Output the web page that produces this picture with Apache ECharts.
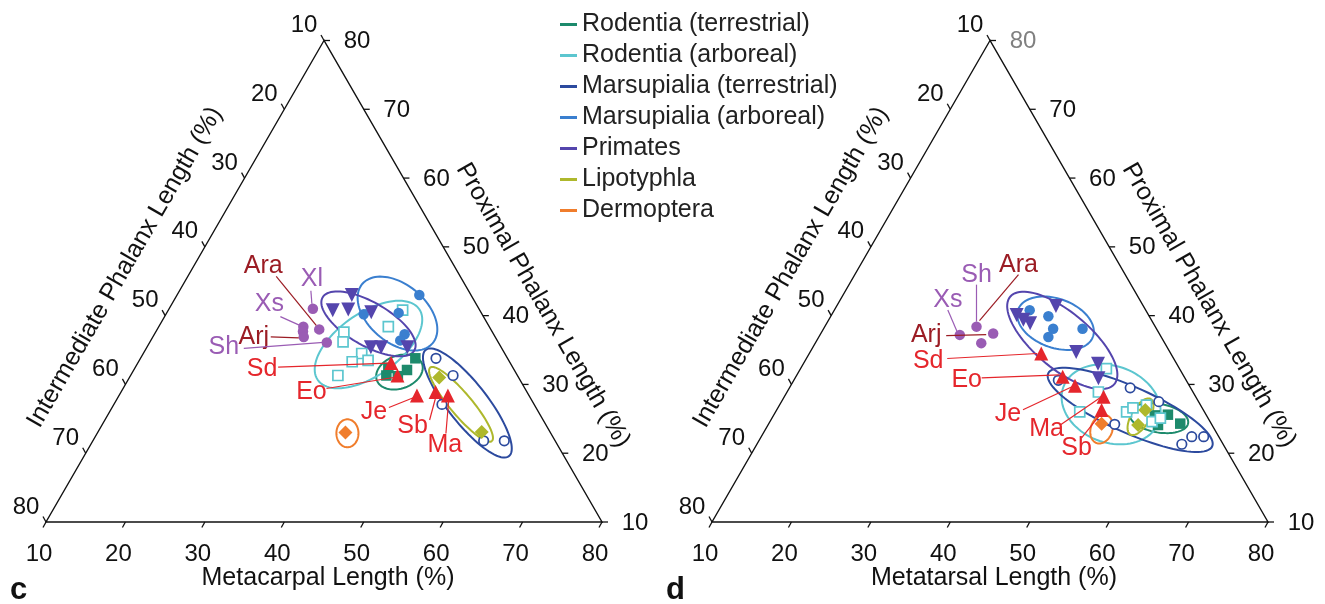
<!DOCTYPE html>
<html><head><meta charset="utf-8">
<script src="https://cdn.jsdelivr.net/npm/echarts@6/dist/echarts.min.js"></script>
<style>html,body{margin:0;padding:0;background:#fff}#chart{width:1325px;height:604px}</style>
</head><body><div id="chart"></div>
<script>
// ---------------- DATA ----------------
// Each point: [metacarpal (c) / metatarsal (d) length %, proximal phalanx length %]
// intermediate phalanx length % = 100 - both
const tickValues = [10, 20, 30, 40, 50, 60, 70, 80];
const legendNames = ['Rodentia (terrestrial)', 'Rodentia (arboreal)', 'Marsupialia (terrestrial)',
  'Marsupialia (arboreal)', 'Primates', 'Lipotyphla', 'Dermoptera'];

// panel c (manus)
const cRodentiaTer = [[44.6,33.8],[44.4,32.1],[43.7,31.2],[42.2,31.3],[41.9,32.4]];
const cRodentiaArb = [[39.5,40.8],[38.9,38.4],[33.7,37.6],[34.3,36.2],[37.5,34.5],[38.8,33.5],[36.9,33.3],[36.1,31.3]];
const cMarsupTer = [[47.2,33.8],[50.6,31.3],[51.3,27.1],[59.2,21.8],[61.8,21.8]];
const cMarsupArb = [[40.5,43.0],[39.2,40.4],[34.9,40.2],[41.5,37.3],[41.4,36.4]];
const cPrimates = [[32.0,43.0],[30.7,40.8],[32.6,40.9],[35.7,40.5],[38.2,35.4],[39.5,35.4],[42.8,35.4]];
const cLipotyphla = [[49.0,31.0],[58.3,23.1]];
const cDermoptera = [[41.2,23.0]];
const cFossilRed = [[41.9,33.1],[43.6,31.3],[47.5,28.4],[49.6,28.9],[51.4,28.4]];      // Sd Eo Je Sb Ma
const cFossilPurple = [[28.1,41.0],[28.2,38.4],[28.5,37.7],[30.4,38.0],[29.0,36.9],[32.3,36.1]]; // Xl Xs - Ara Arj Sh
// confidence ellipses: [centre metacarpal, centre proximal, semi-major, semi-minor, tilt deg], legend order
const cEllipses = [[43.6,31.8,3.03,2.07,-20],[37.7,35.8,7.79,3.94,-35],[54.4,27.3,8.5,2.5,52],
  [39.1,40.3,5.79,3.65,40],[36.2,38.8,6.67,2.73,30],[53.7,27.1,6.04,1.38,50],[41.5,22.9,1.76,1.39,90]];
const cAnnoNames = ['Ara','Xl','Xs','Arj','Sh','Sd','Eo','Je','Sb','Ma'];
const cAnnoTargets = [cFossilPurple[3],cFossilPurple[0],cFossilPurple[1],cFossilPurple[4],cFossilPurple[5],
  cFossilRed[0],cFossilRed[1],cFossilRed[2],cFossilRed[3],cFossilRed[4]];

// panel d (pes)
const dRodentiaTer = [[58.0,25.5],[59.6,25.6],[61.8,24.3],[59.1,24.1]];
const dRodentiaArb = [[48.5,32.3],[49.2,28.9],[48.3,26.0],[54.2,26.0],[54.7,26.6],[56.2,27.0],[58.1,24.6],[58.9,25.1]];
const dMarsupTer = [[43.3,30.6],[52.9,29.5],[53.6,24.2],[57.5,27.5],[63.5,21.3],[64.2,22.4],[65.7,22.4]];
const dMarsupArb = [[34.6,40.8],[37.4,39.9],[38.9,38.1],[38.9,36.9],[42.6,38.1]];
const dPrimates = [[33.3,40.1],[34.5,39.4],[35.6,38.9],[37.6,41.4],[43.5,34.7],[47.1,33.0],[48.2,30.9]];
const dLipotyphla = [[56.4,26.3],[56.6,24.1]];
const dDermoptera = [[51.9,24.3]];
const dFossilRed = [[39.2,34.5],[43.6,31.1],[45.8,29.8],[50.2,28.2],[50.9,26.3]];   // Sd Eo Je Ma Sb
const dFossilPurple = [[27.6,37.2],[29.1,38.4],[31.7,37.4],[30.9,36.0]];
const dEllipses = [[58.7,25.1,3.75,1.80,10],[51.7,27.1,6.4,4.82,20],[54.5,26.3,11.3,2.9,24],
  [38.8,38.9,5.01,3.08,20],[40.9,36.4,8.56,3.53,40],[56.3,25.3,2.58,1.16,-60],[52.3,23.5,1.86,1.36,-70]];
const dAnnoNames = ['Xs','Sh','Ara','Arj','Sd','Eo','Je','Ma','Sb'];
const dAnnoTargets = [dFossilPurple[0],dFossilPurple[1],dFossilPurple[1],dFossilPurple[2],
  dFossilRed[0],dFossilRed[1],dFossilRed[2],dFossilRed[3],dFossilRed[4]];

// ---------------- STYLE / LAYOUT ----------------
const groupColors = ['#1d8a6c','#5cc6cf','#2c4a9e','#3a7fcf','#5445ad','#aeb82c','#f07d2c'];
const RED = '#e5262c', DARKRED = '#9b1c24', PURPLE = '#9a5cb4';
const FONT = '"Liberation Sans", Arial, Helvetica, sans-serif';
// annotation layout: [colour, text dx,dy, line start dx,dy, line end dx,dy] (pixels from target)
const cAnnoLayout = [
  [DARKRED,-56,-63,-43,-53,-3,-4],[PURPLE,-1,-30,-2,-18,-1,-5],[PURPLE,-34,-23,-23,-10,-3,-1],
  [DARKRED,-50,0,-33,0,-5,1],[PURPLE,-103,5,-83,6,-3,0],[RED,-129,6,-113,4,-3,0],
  [RED,-86,17,-71,13,-4,2],[RED,-43,17,-28,12,-3,2],[RED,-23,34,-6,28,1,2],[RED,-3,50,-2,38,1,2]];
const dAnnoLayout = [
  [PURPLE,-12,-35,-12,-25,-3,-4],[PURPLE,0,-52,0,-42,0,-5],[DARKRED,42,-62,42,-52,3,-6],
  [DARKRED,-67,2,-47,2,-7,1],[RED,-113,8,-94,5,-4,0],[RED,-96,3,-81,1,-3,-2],
  [RED,-67,28,-52,24,-3,1],[RED,-57,32,-43,28,-2,0],[RED,-25,38,-20,28,0,3]];

const SQ = Math.sqrt(3) / 2;
function tern(m, p) { return [(m - 10) + (p - 10) / 2, (p - 10) * SQ]; }

function txt(s, x, y, size, color, rot, weight, align) {
  return { type: 'text', x: x, y: y, rotation: rot || 0,
    style: { text: s, fill: color, font: (weight || 'normal') + ' ' + size + 'px ' + FONT,
      align: align || 'center', textAlign: align || 'center', verticalAlign: 'middle', textVerticalAlign: 'middle' } };
}
function seg(p, q, color, w) {
  return { type: 'line', shape: { x1: p[0], y1: p[1], x2: q[0], y2: q[1] }, style: { stroke: color, lineWidth: w } };
}

function frameSeries(gi, bottomTitle, letter, letterDx, topRightColor) {
  return { type: 'custom', xAxisIndex: gi, yAxisIndex: gi, silent: true, clip: false, z: 1,
    data: [[0, 0]],
    renderItem: function (params, api) {
      const c = (m, p) => api.coord(tern(m, p));
      const A = c(10, 80), B = c(10, 10), C = c(80, 10);
      const ch = [{ type: 'polygon', shape: { points: [A, B, C] }, style: { fill: 'none', stroke: '#111', lineWidth: 1.4 } }];
      tickValues.forEach(v => {
        let p = c(v, 10);
        ch.push(seg(p, [p[0] - 3, p[1] + 5.5], '#111', 1.3));
        ch.push(txt(String(v), p[0] - 7, p[1] + 32, 24, '#111'));
        p = c(10, 90 - v);
        ch.push(seg(p, [p[0] - 3, p[1] - 5.5], '#111', 1.3));
        ch.push(txt(String(v), p[0] - 20, p[1] - 15, 24, '#111'));
        p = c(90 - v, v);
        ch.push(seg(p, [p[0] + 6, p[1]], '#111', 1.3));
        ch.push(txt(String(v), p[0] + 33, p[1] + 1, 24, v === 80 ? topRightColor : '#111'));
      });
      const midL = [(A[0] + B[0]) / 2, (A[1] + B[1]) / 2], midR = [(A[0] + C[0]) / 2, (A[1] + C[1]) / 2];
      ch.push(txt(bottomTitle, (B[0] + C[0]) / 2 + 4, B[1] + 56, 25, '#111'));
      ch.push(txt('Intermediate Phalanx Length (%)', midL[0] - 60, midL[1] - 14, 25, '#111', Math.PI / 3));
      ch.push(txt('Proximal Phalanx Length (%)', midR[0] + 80, midR[1] + 24, 25, '#111', -Math.PI / 3));
      ch.push(txt(letter, B[0] + letterDx, B[1] + 68, 31, '#111', 0, 'bold', 'left'));
      return { type: 'group', children: ch };
    } };
}

function ellipseSeries(gi, list) {
  return { type: 'custom', xAxisIndex: gi, yAxisIndex: gi, silent: true, clip: false, z: 3,
    data: list.map((e, i) => { const xy = tern(e[0], e[1]); return [xy[0], xy[1], e[2], e[3], e[4], i]; }),
    renderItem: function (params, api) {
      const cx = api.value(0), cy = api.value(1), a = api.value(2), b = api.value(3);
      const phi = -api.value(4) * Math.PI / 180, col = groupColors[api.value(5)];
      const pts = [];
      for (let k = 0; k <= 90; k++) {
        const t = k / 90 * 2 * Math.PI, ex = a * Math.cos(t), ey = b * Math.sin(t);
        pts.push(api.coord([cx + ex * Math.cos(phi) - ey * Math.sin(phi), cy + ex * Math.sin(phi) + ey * Math.cos(phi)]));
      }
      return { type: 'polyline', shape: { points: pts }, style: { fill: 'none', stroke: col, lineWidth: 2 } };
    } };
}

function annoSeries(gi, names, targets, layout) {
  return { type: 'custom', xAxisIndex: gi, yAxisIndex: gi, silent: true, clip: false, z: 6,
    data: targets.map((t, i) => { const xy = tern(t[0], t[1]); return [xy[0], xy[1], i]; }),
    renderItem: function (params, api) {
      const i = api.value(2), L = layout[i];
      const p = api.coord([api.value(0), api.value(1)]);
      return { type: 'group', children: [
        seg([p[0] + L[3], p[1] + L[4]], [p[0] + L[5], p[1] + L[6]], L[0], 1.2),
        txt(names[i], p[0] + L[1], p[1] + L[2], 25, L[0])
      ] };
    } };
}

function scatter(gi, data, symbol, size, color, hollow, rotate) {
  return { type: 'scatter', xAxisIndex: gi, yAxisIndex: gi, silent: true, z: 5,
    data: data.map(d => tern(d[0], d[1])), symbol: symbol, symbolSize: size, symbolRotate: rotate || 0,
    itemStyle: hollow ? { color: '#fff', borderColor: color, borderWidth: 1.7, opacity: 1 }
                      : { color: color, opacity: 1 } };
}

function panelPoints(gi, s) {
  return [
    scatter(gi, s[0], 'rect', 10.5, groupColors[0]),
    scatter(gi, s[1], 'rect', 10, groupColors[1], true),
    scatter(gi, s[2], 'circle', 9.5, groupColors[2], true),
    scatter(gi, s[3], 'circle', 10.5, groupColors[3]),
    scatter(gi, s[4], 'triangle', 14, groupColors[4], false, 180),
    scatter(gi, s[5], 'diamond', 14, groupColors[5]),
    scatter(gi, s[6], 'diamond', 14, groupColors[6]),
    scatter(gi, s[7], 'triangle', 14, RED),
    scatter(gi, s[8], 'circle', 10.5, PURPLE)
  ];
}

const legendSeries = legendNames.map((n, i) => ({ type: 'line', name: n, data: [], xAxisIndex: 0, yAxisIndex: 0,
  color: groupColors[i], itemStyle: { color: groupColors[i] }, lineStyle: { color: groupColors[i] } }));

const chart = echarts.init(document.getElementById('chart'), null, { renderer: 'canvas' });
chart.setOption({
  animation: false,
  backgroundColor: '#fff',
  grid: [{ left: 46, top: 40.5, width: 556, height: 481.5 }, { left: 712, top: 40.5, width: 556, height: 481.5 }],
  xAxis: [0, 1].map(i => ({ type: 'value', gridIndex: i, min: 0, max: 70, show: false })),
  yAxis: [0, 1].map(i => ({ type: 'value', gridIndex: i, min: 0, max: 70 * SQ, show: false })),
  legend: { data: legendNames, orient: 'vertical', left: 560, top: 12, padding: 0, itemGap: 6,
    itemWidth: 17, itemHeight: 3, icon: 'rect', selectedMode: false,
    textStyle: { fontSize: 25, color: '#222', fontFamily: FONT } },
  series: [].concat(
    legendSeries,
    [frameSeries(0, 'Metacarpal Length (%)', 'c', -36, '#111'),
     frameSeries(1, 'Metatarsal Length (%)', 'd', -46, '#808080'),
     ellipseSeries(0, cEllipses), ellipseSeries(1, dEllipses)],
    panelPoints(0, [cRodentiaTer, cRodentiaArb, cMarsupTer, cMarsupArb, cPrimates, cLipotyphla, cDermoptera, cFossilRed, cFossilPurple]),
    panelPoints(1, [dRodentiaTer, dRodentiaArb, dMarsupTer, dMarsupArb, dPrimates, dLipotyphla, dDermoptera, dFossilRed, dFossilPurple]),
    [annoSeries(0, cAnnoNames, cAnnoTargets, cAnnoLayout), annoSeries(1, dAnnoNames, dAnnoTargets, dAnnoLayout)]
  )
});
</script></body></html>
